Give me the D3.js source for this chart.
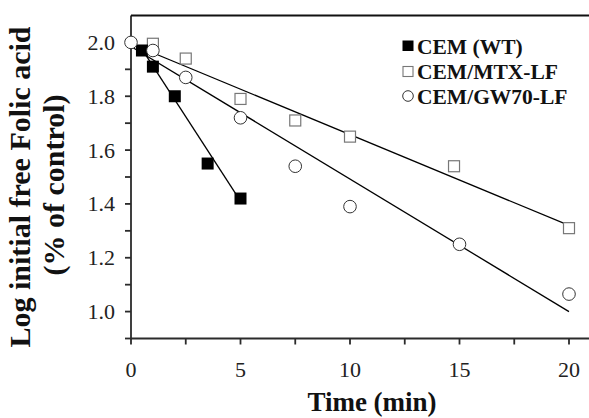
<!DOCTYPE html>
<html>
<head>
<meta charset="utf-8">
<script src="https://cdn.jsdelivr.net/npm/d3@7"></script>
<style>
  body { margin: 0; background: #fff; }
  svg { display: block; }
</style>
</head>
<body>
<svg id="chart" width="589" height="418"></svg>
<script>
// Data: time (min) vs log initial free folic acid
const wtTime = [0.5, 1, 2, 3.5, 5];
const wtValue = [1.97, 1.91, 1.80, 1.55, 1.42];

const mtxTime = [1, 2.5, 5, 7.5, 10, 14.75, 20];
const mtxValue = [1.995, 1.94, 1.79, 1.71, 1.65, 1.54, 1.31];

const gwTime = [0, 1, 2.5, 5, 7.5, 10, 15, 20];
const gwValue = [2.0, 1.97, 1.87, 1.72, 1.54, 1.39, 1.25, 1.065];

// regression lines, [time, value] end points
const wtFit = [[0.5, 1.975], [5, 1.41]];
const mtxFit = [[0, 1.995], [20, 1.32]];
const gwFit = [[0, 1.985], [20, 1.0]];

const legendLabels = ["CEM (WT)", "CEM/MTX-LF", "CEM/GW70-LF"];
const xTicks = [0, 2.5, 5, 7.5, 10, 12.5, 15, 17.5, 20];
const xLabels = [0, 5, 10, 15, 20];
const yTicks = [0.9, 1.0, 1.1, 1.2, 1.3, 1.4, 1.5, 1.6, 1.7, 1.8, 1.9, 2.0];
const yLabels = [1.0, 1.2, 1.4, 1.6, 1.8, 2.0];

const serif = "'Liberation Serif', 'Times New Roman', serif";
const svg = d3.select("#chart");
const axisColor = "#2b2b2b";

const x = d3.scaleLinear().domain([0, 20]).range([131, 569]);
const y = d3.scaleLinear().domain([0.9, 2.1]).range([338.5, 15.5]);

// axis lines
const axes = svg.append("g")
    .attr("stroke", axisColor)
    .attr("stroke-width", 1.8)
    .attr("fill", "none");
axes.append("line")
    .attr("x1", x(0)).attr("x2", 589)
    .attr("y1", y(0.9)).attr("y2", y(0.9));
axes.append("line")
    .attr("x1", x(0)).attr("x2", x(0))
    .attr("y1", y(2.1)).attr("y2", y(0.9) + 1);
// top frame line
axes.append("line")
    .attr("x1", x(0)).attr("x2", 589)
    .attr("y1", y(2.1)).attr("y2", y(2.1))
    .attr("stroke", "#111");

// tick marks
axes.selectAll(".xt")
    .data(xTicks)
    .enter().append("line")
    .attr("class", "xt")
    .attr("x1", d => x(d)).attr("x2", d => x(d))
    .attr("y1", y(0.9)).attr("y2", y(0.9) + 6);
axes.selectAll(".yt")
    .data(yTicks)
    .enter().append("line")
    .attr("class", "yt")
    .attr("x1", x(0) - 6).attr("x2", x(0))
    .attr("y1", d => y(d)).attr("y2", d => y(d));

// tick labels
svg.append("g").selectAll("text")
    .data(xLabels)
    .enter().append("text")
    .attr("font-family", serif)
    .attr("font-size", 22)
    .attr("fill", "#222")
    .attr("x", d => x(d))
    .attr("y", 377)
    .attr("text-anchor", "middle")
    .text(d => d);

svg.append("g").selectAll("text")
    .data(yLabels)
    .enter().append("text")
    .attr("font-family", serif)
    .attr("font-size", 22)
    .attr("fill", "#222")
    .attr("x", 115)
    .attr("y", d => y(d) + 7.5)
    .attr("text-anchor", "end")
    .text(d => d.toFixed(1));

// axis titles
svg.append("text")
    .attr("font-family", serif)
    .attr("font-weight", "bold")
    .attr("fill", "#111")
    .attr("x", 372)
    .attr("y", 411)
    .attr("text-anchor", "middle")
    .attr("font-size", 27)
    .text("Time (min)");

const yTitle = svg.append("g")
    .attr("transform", "translate(0,187) rotate(-90)")
    .attr("font-family", serif)
    .attr("font-weight", "bold")
    .attr("font-size", 30)
    .attr("fill", "#111")
    .attr("text-anchor", "middle");
yTitle.append("text")
    .attr("x", 0).attr("y", 30)
    .text("Log initial free Folic acid");
yTitle.append("text")
    .attr("x", 2).attr("y", 64)
    .text("(% of control)");

// fitted lines
const line = d3.line().x(d => x(d[0])).y(d => y(d[1]));
svg.append("g").selectAll("path")
    .data([wtFit, mtxFit, gwFit])
    .enter().append("path")
    .attr("d", line)
    .attr("fill", "none")
    .attr("stroke", "#000")
    .attr("stroke-width", 1.3);

// markers
const mtxPts = mtxTime.map((t, i) => [t, mtxValue[i]]);
const wtPts = wtTime.map((t, i) => [t, wtValue[i]]);
const gwPts = gwTime.map((t, i) => [t, gwValue[i]]);

svg.append("g").selectAll("rect")
    .data(mtxPts)
    .enter().append("rect")
    .attr("x", d => x(d[0]) - 5.5)
    .attr("y", d => y(d[1]) - 5.5)
    .attr("width", 11).attr("height", 11)
    .attr("fill", "#fff")
    .attr("stroke", "#777")
    .attr("stroke-width", 1.2);

svg.append("g").selectAll("rect")
    .data(wtPts)
    .enter().append("rect")
    .attr("x", d => x(d[0]) - 6)
    .attr("y", d => y(d[1]) - 6)
    .attr("width", 12).attr("height", 12)
    .attr("fill", "#000");

svg.append("g").selectAll("circle")
    .data(gwPts)
    .enter().append("circle")
    .attr("cx", d => x(d[0]))
    .attr("cy", d => y(d[1]))
    .attr("r", 6.3)
    .attr("fill", "#fff")
    .attr("stroke", "#333")
    .attr("stroke-width", 1);

// legend
const legend = svg.append("g").attr("transform", "translate(408,0)");
const rowY = [46, 71.5, 96];
legend.append("rect")
    .attr("x", -5.5).attr("y", rowY[0] - 5.5)
    .attr("width", 11).attr("height", 10.5)
    .attr("fill", "#000");
legend.append("rect")
    .attr("x", -5).attr("y", rowY[1] - 5)
    .attr("width", 10).attr("height", 10)
    .attr("fill", "#fff").attr("stroke", "#777").attr("stroke-width", 1.1);
legend.append("circle")
    .attr("cx", 0).attr("cy", rowY[2])
    .attr("r", 5.3)
    .attr("fill", "#fff").attr("stroke", "#333").attr("stroke-width", 1);
legend.selectAll("text")
    .data(legendLabels)
    .enter().append("text")
    .attr("font-family", serif)
    .attr("font-weight", "bold")
    .attr("fill", "#111")
    .attr("x", 9)
    .attr("y", (d, i) => rowY[i] + 7.5)
    .attr("font-size", 21.5)
    .text(d => d);
</script>
</body>
</html>
